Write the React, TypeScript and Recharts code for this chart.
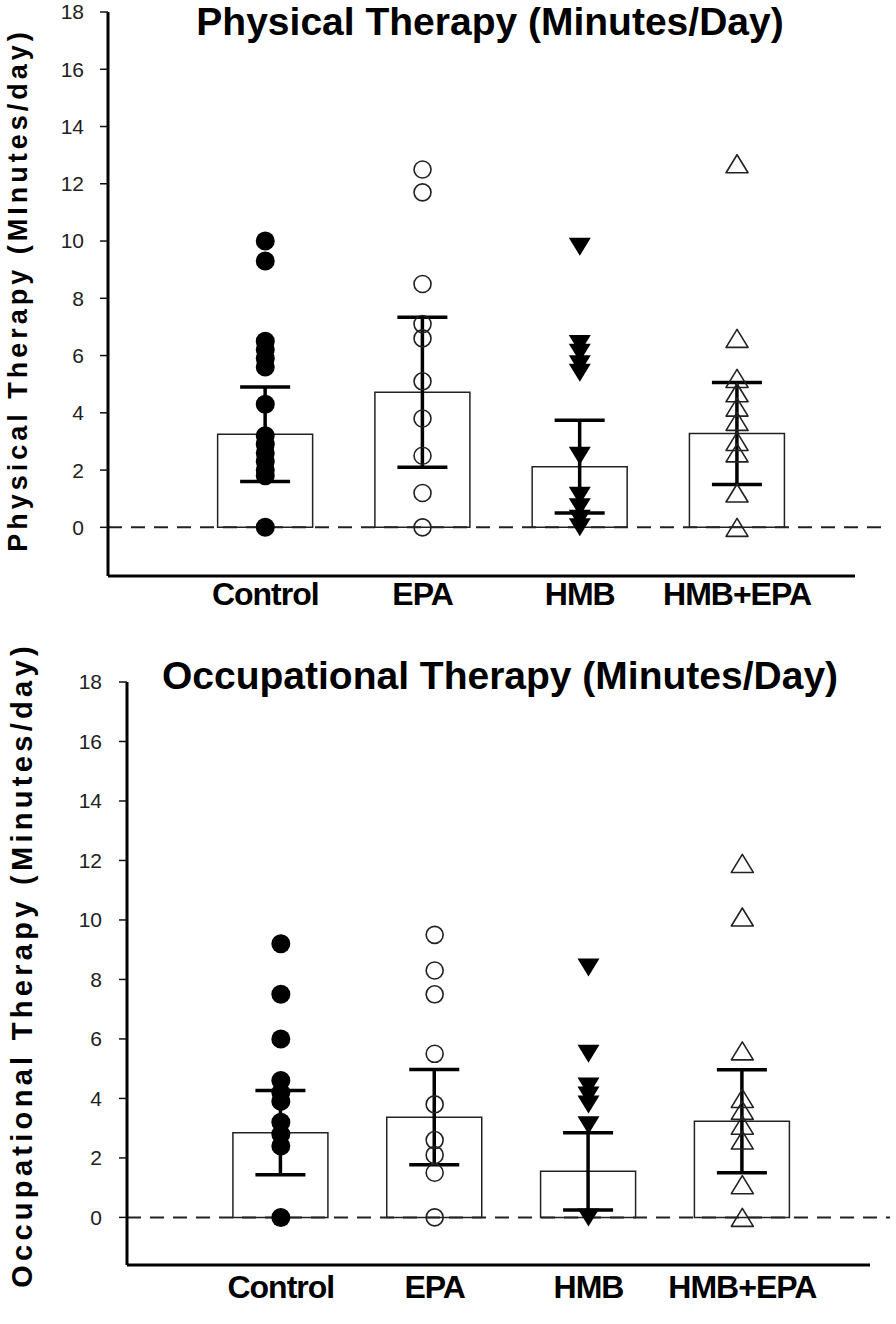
import React from "react";
import {
  ComposedChart, Bar, Scatter, XAxis, YAxis, ErrorBar, ReferenceLine,
} from "recharts";

const groups = ["Control", "EPA", "HMB", "HMB+EPA"];
const yTicks = [0, 2, 4, 6, 8, 10, 12, 14, 16, 18];

// physical therapy, minutes/day
const ptMeans = [3.25, 4.72, 2.12, 3.28];
const ptSd = [1.65, 2.62, 1.62, 1.78];
const ptControl = [10.0, 9.3, 6.5, 6.2, 5.9, 5.6, 4.3, 3.2, 2.9, 2.6, 2.3, 2.0, 1.8, 0];
const ptEpa = [12.5, 11.7, 8.5, 7.1, 6.6, 5.1, 3.8, 2.5, 1.2, 0];
const ptHmb = [9.8, 6.4, 6.1, 5.7, 5.4, 2.5, 1.1, 0.7, 0.3, 0];
const ptHmbEpa = [12.7, 6.6, 5.2, 4.7, 4.2, 3.7, 3.0, 2.6, 1.2, 0];

// occupational therapy, minutes/day
const otMeans = [2.85, 3.37, 1.55, 3.23];
const otSd = [1.42, 1.6, 1.3, 1.73];
const otControl = [9.2, 7.5, 6.0, 4.6, 4.2, 3.9, 3.2, 2.8, 2.4, 0];
const otEpa = [9.5, 8.3, 7.5, 5.5, 3.8, 2.6, 2.1, 1.5, 0];
const otHmb = [8.4, 5.5, 4.4, 4.1, 3.8, 3.1, 0];
const otHmbEpa = [11.9, 10.1, 5.6, 4.0, 3.6, 3.1, 2.6, 1.1, 0];

const FONT = "'Liberation Sans', Arial, sans-serif";

function FilledDot(p: any) {
  return <circle cx={p.cx} cy={p.cy} r={9.5} fill="#000" />;
}
function OpenDot(p: any) {
  return <circle cx={p.cx} cy={p.cy} r={8.5} fill="none" stroke="#222" strokeWidth={1.6} />;
}
function TriDown(p: any) {
  const { cx, cy } = p;
  return <polygon points={`${cx - 11},${cy - 9} ${cx + 11},${cy - 9} ${cx},${cy + 9}`} fill="#000" />;
}
function TriUp(p: any) {
  const { cx, cy } = p;
  return (
    <polygon
      points={`${cx - 11},${cy + 9} ${cx + 11},${cy + 9} ${cx},${cy - 9}`}
      fill="none" stroke="#222" strokeWidth={1.6} strokeLinejoin="round"
    />
  );
}
const shapes = [FilledDot, OpenDot, TriDown, TriUp];

function TherapyChart({
  means, sds, points, yMin, xMax, dashEnd, height, margin, tickGap, labelGap,
}: {
  means: number[]; sds: number[]; points: number[][];
  yMin: number; xMax: number; dashEnd: number; height: number;
  margin: { top: number; right: number; bottom: number; left: number };
  tickGap: number; labelGap: number;
}) {
  const barData = groups.map((g, i) => ({ x: i + 1, name: g, mean: means[i], sd: sds[i] }));
  return (
    <ComposedChart width={896} height={height} data={barData} margin={margin}>
      <XAxis
        type="number" dataKey="x" domain={[0, xMax]} allowDataOverflow
        ticks={[1, 2, 3, 4]} interval={0}
        tickFormatter={(v) => groups[v - 1] ?? ""}
        axisLine={{ stroke: "#000", strokeWidth: 3 }} tickLine={false}
        tickSize={0} tickMargin={labelGap} height={50}
        tick={{ fill: "#000", fontSize: 32, fontWeight: 700, fontFamily: FONT, letterSpacing: -1 }}
      />
      <YAxis
        type="number" domain={[yMin, 18]} allowDataOverflow ticks={yTicks} interval={0}
        width={60} axisLine={{ stroke: "#000", strokeWidth: 3 }}
        tickLine={{ stroke: "#111", strokeWidth: 1.5 }} tickSize={8} tickMargin={tickGap}
        tick={{ fill: "#222", fontSize: 21, fontFamily: FONT }}
      />
      <ReferenceLine
        segment={[{ x: 0, y: 0 }, { x: dashEnd, y: 0 }]} ifOverflow="visible"
        stroke="#222" strokeWidth={2} strokeDasharray="14 9"
      />
      <Bar dataKey="mean" barSize={95} fill="#fff" stroke="#222" strokeWidth={1.5} isAnimationActive={false}>
        <ErrorBar dataKey="sd" width={25} stroke="#000" strokeWidth={3.5} direction="y" />
      </Bar>
      {points.map((vals, i) => (
        <Scatter
          key={groups[i]}
          data={vals.map((y) => ({ x: i + 1, y }))}
          dataKey="y"
          shape={shapes[i]}
          isAnimationActive={false}
        />
      ))}
    </ComposedChart>
  );
}

const titleStyle: React.CSSProperties = {
  position: "absolute", fontFamily: FONT, fontWeight: 700, fontSize: 39,
  whiteSpace: "nowrap", transform: "translate(-50%, -50%)", color: "#000",
};
const yLabelStyle: React.CSSProperties = {
  position: "absolute", fontFamily: FONT, fontWeight: 700,
  whiteSpace: "nowrap", color: "#000",
  transform: "translate(-50%, -50%) rotate(-90deg)",
};

export default function App() {
  return (
    <div style={{ position: "absolute", left: 0, top: 0, width: 896, height: 1324, background: "#fff" }}>
      <div style={{ position: "absolute", left: 0, top: 0 }}>
        <TherapyChart
          means={ptMeans} sds={ptSd} points={[ptControl, ptEpa, ptHmb, ptHmbEpa]}
          yMin={-1.7} xMax={4.75} dashEnd={4.97} height={626} tickGap={16} labelGap={6}
          margin={{ top: 12, right: 41, bottom: 0, left: 48 }}
        />
      </div>
      <div style={{ position: "absolute", left: 0, top: 660 }}>
        <TherapyChart
          means={otMeans} sds={otSd} points={[otControl, otEpa, otHmb, otHmbEpa]}
          yMin={-1.6} xMax={4.83} dashEnd={4.96} height={655} tickGap={17} labelGap={10}
          margin={{ top: 22, right: 26, bottom: 0, left: 67 }}
        />
      </div>
      <div style={{ ...titleStyle, left: 490, top: 22 }}>Physical Therapy (Minutes/Day)</div>
      <div style={{ ...titleStyle, left: 500, top: 676 }}>Occupational Therapy (Minutes/Day)</div>
      <div style={{ ...yLabelStyle, fontSize: 27, letterSpacing: 4, left: 18, top: 290 }}>
        Physical Therapy (MInutes/day)
      </div>
      <div style={{ ...yLabelStyle, fontSize: 29, letterSpacing: 4.3, left: 22, top: 965 }}>
        Occupational Therapy (Minutes/day)
      </div>
    </div>
  );
}
